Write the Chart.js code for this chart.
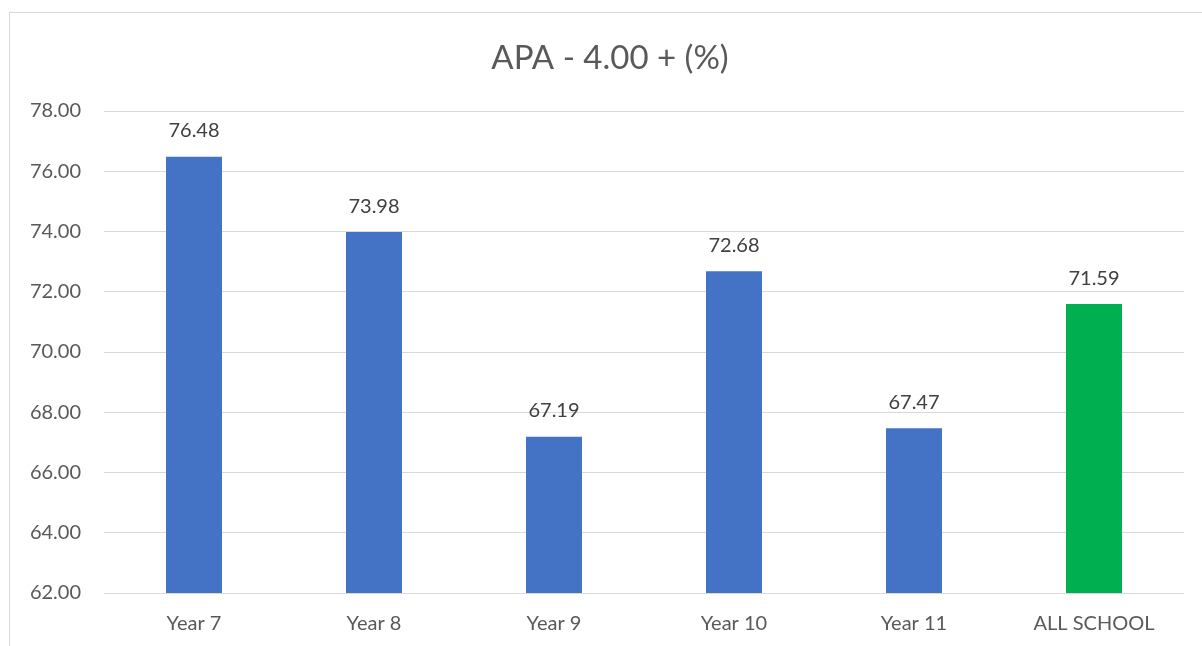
<!DOCTYPE html>
<html>
<head>
<meta charset="utf-8">
<script src="https://cdn.jsdelivr.net/npm/chart.js@4/dist/chart.umd.min.js"></script>
<style>
  html, body { margin: 0; padding: 0; background: #ffffff; }
  #wrap { position: relative; width: 1202px; height: 646px; overflow: hidden; }
  canvas { display: block; }
</style>
</head>
<body>
<div id="wrap"><canvas id="chart" width="1202" height="646"></canvas></div>
<script>
// Share of pupils at APA 4.00 or above, by year group
const categories = ['Year 7', 'Year 8', 'Year 9', 'Year 10', 'Year 11', 'ALL SCHOOL'];
const values = [76.48, 73.98, 67.19, 72.68, 67.47, 71.59];
const barColors = ['#4472C4', '#4472C4', '#4472C4', '#4472C4', '#4472C4', '#00B050'];
const yMin = 62;
const yMax = 78;
const yStep = 2;
const chartTitle = 'APA - 4.00 + (%)';

const FONT = 'Lato, "Open Sans", "Noto Sans", sans-serif';

// Thin frame around the whole chart, plus the title centred inside it
const framePlugin = {
  id: 'frame',
  beforeDraw(chart) {
    const ctx = chart.ctx;
    ctx.save();
    ctx.strokeStyle = '#D9D9D9';
    ctx.lineWidth = 1;
    ctx.strokeRect(9.5, 12.5, 1220, 660);
    ctx.font = '33px ' + FONT;
    ctx.fillStyle = '#595959';
    ctx.textAlign = 'center';
    ctx.textBaseline = 'middle';
    ctx.fillText(chartTitle, 610, 58);
    ctx.restore();
  }
};

// Value labels above each bar
const valueLabels = {
  id: 'valueLabels',
  afterDatasetsDraw(chart) {
    const ctx = chart.ctx;
    const meta = chart.getDatasetMeta(0);
    ctx.save();
    ctx.font = '20px ' + FONT;
    ctx.fillStyle = '#404040';
    ctx.textAlign = 'center';
    ctx.textBaseline = 'middle';
    meta.data.forEach((bar, i) => {
      ctx.fillText(values[i].toFixed(2), bar.x, bar.y - 26);
    });
    ctx.restore();
  }
};

new Chart(document.getElementById('chart'), {
  type: 'bar',
  data: {
    labels: categories,
    datasets: [{
      data: values,
      backgroundColor: barColors,
      borderWidth: 0,
      categoryPercentage: 1,
      barPercentage: 0.311
    }]
  },
  options: {
    responsive: false,
    animation: false,
    layout: { padding: { left: 0, right: 18, top: 111, bottom: 0 } },
    plugins: {
      legend: { display: false },
      tooltip: { enabled: false },
      title: { display: false }
    },
    scales: {
      x: {
        grid: { display: false, drawTicks: false },
        border: { display: false },
        ticks: {
          color: '#595959',
          font: { family: FONT, size: 20 },
          padding: 19,
          maxRotation: 0,
          autoSkip: false
        },
        afterFit(scale) { scale.height = 53; }
      },
      y: {
        min: yMin,
        max: yMax,
        grid: { color: '#D9D9D9', lineWidth: 1, drawTicks: false },
        border: { display: false },
        ticks: {
          stepSize: yStep,
          color: '#595959',
          font: { family: FONT, size: 20 },
          padding: 23,
          callback: (v) => Number(v).toFixed(2)
        },
        afterFit(scale) { scale.width = 104; }
      }
    }
  },
  plugins: [framePlugin, valueLabels]
});
</script>
</body>
</html>
